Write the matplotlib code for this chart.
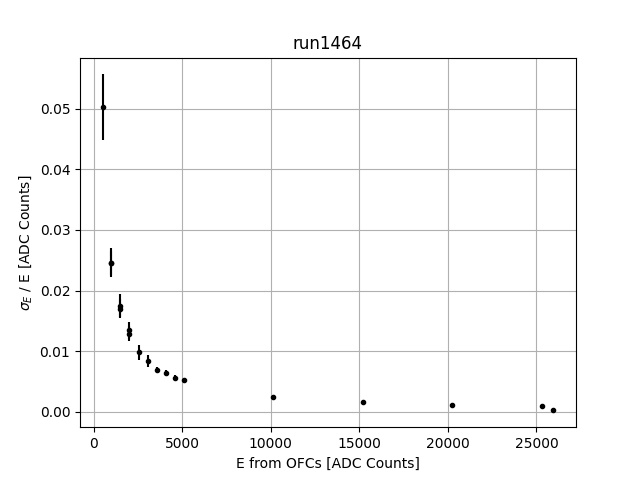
import numpy as np
import matplotlib
matplotlib.use("Agg")
import matplotlib.pyplot as plt

energia = [500, 1000, 1000, 1510, 1510, 2010, 2010, 2545, 3055, 3563, 4072, 4580, 5090,
           10150, 15215, 20230, 25340, 25960]
resolucao = [0.0503, 0.0246, 0.0245, 0.0175, 0.0170, 0.0134, 0.0129, 0.0098, 0.0083, 0.0069,
             0.0063, 0.0056, 0.0052, 0.0024, 0.0016, 0.0011, 0.0009, 0.0003]
erro = [0.0054, 0.0024, 0.0020, 0.0019, 0.0016, 0.0014, 0.0012, 0.0012, 0.0010, 0.0005,
        0.0005, 0.0004, 0.0004, 0.0002, 0.0001, 0.0001, 0.0001, 0.0001]

plt.figure(figsize=(6.4, 4.8), dpi=100)
plt.errorbar(energia, resolucao, yerr=erro, fmt='.', color='k')
plt.title("run1464")
plt.xlabel("E from OFCs [ADC Counts]")
plt.ylabel(r"$\sigma_E$ / E [ADC Counts]")
plt.grid()
plt.savefig("out.png")
